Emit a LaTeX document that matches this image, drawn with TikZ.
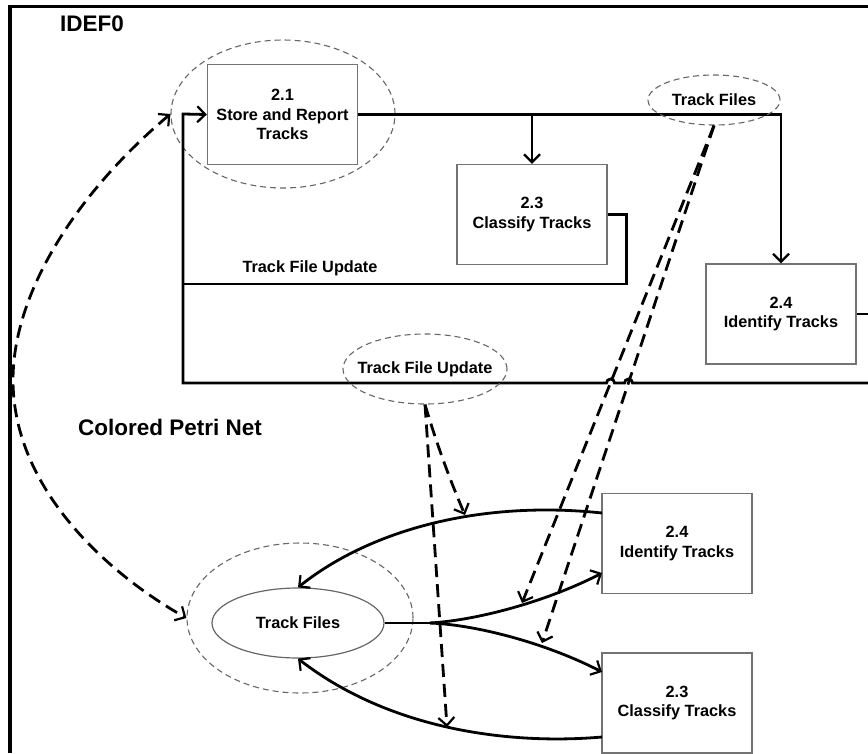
\documentclass[tikz,border=0pt]{standalone}
\usepackage{fontspec}
\setmainfont{Liberation Sans}
\usetikzlibrary{arrows.meta,shapes.geometric,calc}

\begin{document}
\begin{tikzpicture}[x=1pt,y=-1pt,
  tip/.tip={Straight Barb[length=8pt,width=16pt,line width=2.2pt]},
  txt/.style={font=\bfseries\fontsize{16.3}{19.5}\selectfont, align=center, inner sep=0pt},
  actbox/.style={txt, draw=black!55, line width=1.4pt, minimum width=150pt, minimum height=100pt},
  ring/.style={draw=black!60, line width=1.1pt, dash pattern=on 6pt off 4pt, ellipse, inner sep=0pt},
  conn/.style={line width=2.8pt, line join=miter},
  flow/.style={conn, -tip},
  dflow/.style={line width=2.8pt, dash pattern=on 13pt off 7pt, -tip},
  ttl/.style={font=\bfseries\fontsize{22.5}{26}\selectfont, anchor=west, inner sep=0pt}
]
\useasboundingbox (0,0) rectangle (868,753);

% frame
\draw[line width=3.5pt] (10,753) -- (10,6.5) -- (868,6.5);

% ---------------- IDEF0 ----------------
\node[ttl] (tIdef) at (60,24) {IDEF0};

\node[actbox] (b21) at (282.5,114.5) {2.1\\Store and Report\\Tracks};
\node[actbox] (b23) at (532,214.5) {2.3\\Classify Tracks};
\node[actbox] (b24) at (781,314) {2.4\\Identify Tracks};

\node[ring, minimum width=224pt, minimum height=148pt] (ring21) at (283,114) {};

\coordinate (offR) at (868,383);
\coordinate (offOut) at (868,314);
\coordinate (fbL) at (183,284);

% outputs of 2.1
\draw[flow] (b21.east) -| (b24.north);
\draw[flow] (b21.east -| b23.north) -- (b23.north);
% output of 2.4
\draw[conn] (b24.east) -- (offOut);
% 2.3 update loop
\draw[conn] (b23.east) -- ++(19,0) |- (fbL);
% feedback into 2.1, hopping over the dashed links
\draw[flow] (offR) -- (632.5,383) arc[start angle=0,end angle=-180,radius=4]
  -- (614.5,383) arc[start angle=0,end angle=-180,radius=4]
  -- (183,383) -- (183,114) -- (b21.west);

\node[txt] (lblUpd) at (310,268) {Track File Update};

% tunnelled data labels
\node[ring, minimum width=132pt, minimum height=50pt] (tfTopE) at (714,100) {};
\node[txt] (tfTop) at (714,100) {Track Files};
\node[ring, minimum width=164pt, minimum height=70pt] (tfuE) at (425,369) {};
\node[txt] (tfu) at (425,369) {Track File Update};

% ---------------- Colored Petri Net ----------------
\node[ttl, font=\bfseries\fontsize{22.5}{26}\selectfont] (tCpn) at (78,427) {Colored Petri Net};

\node[txt, draw=black!60, line width=1.2pt, ellipse, minimum width=172pt, minimum height=70pt] (tf) at (298,623) {Track Files};
\node[ring, minimum width=226pt, minimum height=150pt] (ringTF) at (300,618) {};

\node[actbox] (p24) at (677,543.5) {2.4\\Identify Tracks};
\node[actbox] (p23) at (677,703) {2.3\\Classify Tracks};

\coordinate (a1s) at (602,513);
\coordinate (split) at (430,623);
\coordinate (a2e) at (602,573);
\coordinate (a3e) at (602,672);
\coordinate (a4s) at (602,737);

\draw[flow] (a1s) .. controls (480,500) and (370,530) .. (tf.north);
\draw[conn] (tf.east) -- (split);
\draw[flow] (split) .. controls (480,620) and (550,600) .. (a2e);
\draw[flow] (split) .. controls (480,625) and (550,645) .. (a3e);
\draw[flow] (a4s) .. controls (510,745) and (390,730) .. (tf.south);

% correspondence links
\coordinate (d1) at (447,727);
\coordinate (d2) at (465,515);
\coordinate (d3) at (522,603);
\coordinate (d4) at (542,643);
\draw[dflow] (tfuE.south) -- (d1);
\draw[dflow] (tfuE.south) .. controls (437,445) and (450,480) .. (d2);
\draw[dflow] (tfTopE.south) -- (d3);
\draw[dflow] (tfTopE.south) -- (d4);
\draw[dflow, tip-tip] (ring21.west) .. controls (80,190) and (13,290) .. (13,380)
  .. controls (13,490) and (110,575) .. (ringTF.west);
\end{tikzpicture}
\end{document}
